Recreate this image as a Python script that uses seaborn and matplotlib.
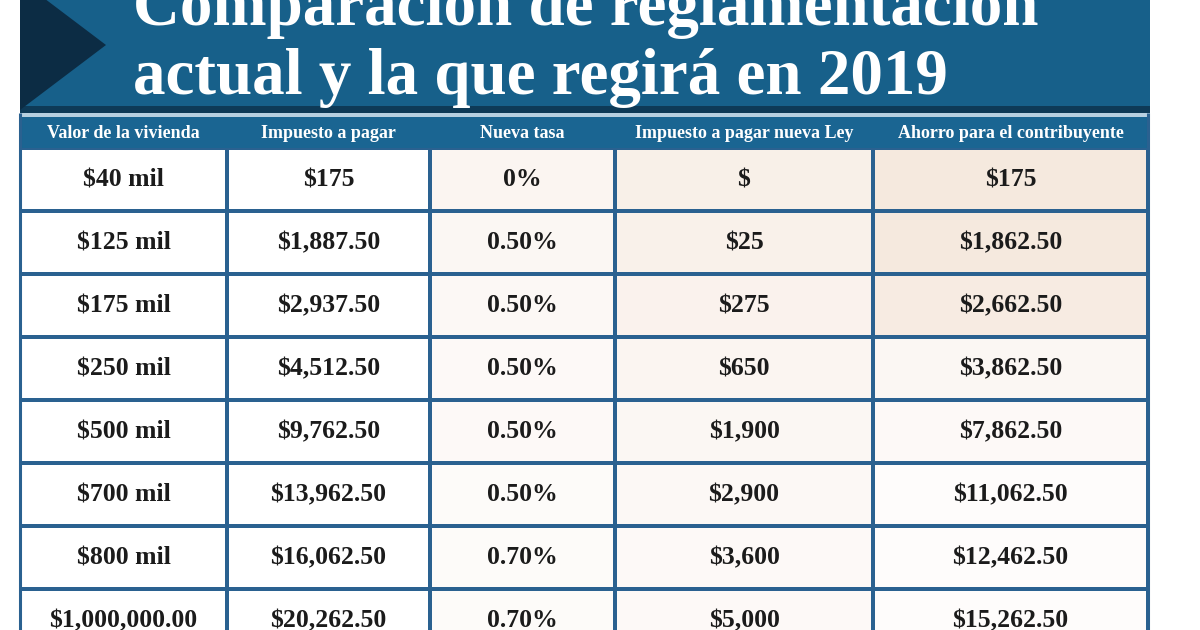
import numpy as np
import matplotlib
matplotlib.use("Agg")
import matplotlib.pyplot as plt
from matplotlib.colors import LinearSegmentedColormap
from matplotlib.patches import Rectangle, Polygon
import seaborn as sb

# table contents
title_lines = ["Comparación de reglamentación", "actual y la que regirá en 2019"]
headers = ["Valor de la vivienda", "Impuesto a pagar", "Nueva tasa",
           "Impuesto a pagar nueva Ley", "Ahorro para el contribuyente"]
valor = ["$40 mil", "$125 mil", "$175 mil", "$250 mil", "$500 mil",
         "$700 mil", "$800 mil", "$1,000,000.00"]
impuesto = ["$175", "$1,887.50", "$2,937.50", "$4,512.50", "$9,762.50",
            "$13,962.50", "$16,062.50", "$20,262.50"]
tasa = ["0%", "0.50%", "0.50%", "0.50%", "0.50%", "0.50%", "0.70%", "0.70%"]
nuevo = ["$", "$25", "$275", "$650", "$1,900", "$2,900", "$3,600", "$5,000"]
ahorro = ["$175", "$1,862.50", "$2,662.50", "$3,862.50", "$7,862.50",
          "$11,062.50", "$12,462.50", "$15,262.50"]
columns = [valor, impuesto, tasa, nuevo, ahorro]

# faint background tint per cell (stands in for the photo behind the table)
tints = [
    [0, 0, 0, 0, 0, 0, 0, 0],
    [0, 0, 0, 0, 0, 0, 0, 0],
    [0.35, 0.3, 0.25, 0.2, 0.2, 0.15, 0.15, 0.15],
    [0.55, 0.5, 0.45, 0.35, 0.3, 0.25, 0.2, 0.2],
    [0.8, 0.8, 0.7, 0.3, 0.2, 0.1, 0.1, 0.1],
]

banner_blue = "#17608a"
header_blue = "#1a6592"
navy = "#0c2c44"
line_blue = "#2a6190"
text_dark = "#1b1b1b"
tint_cmap = LinearSegmentedColormap.from_list("tint", ["#ffffff", "#f3e3d6"])

sb.set_theme(style="white")
plt.rcParams['font.family'] = ['Liberation Serif', 'DejaVu Serif']

W, H = 1200, 630
fig = plt.figure(figsize=(12, 6.3), dpi=100)
fig.patch.set_facecolor("white")

col_edges = [20, 227, 430, 615, 873, 1148]
body_top, row_h = 148, 63


def fig_box(x0, y0, x1, y1):
    return [x0 / W, 1 - y1 / H, (x1 - x0) / W, (y1 - y0) / H]


for j, col in enumerate(columns):
    ax = fig.add_axes(fig_box(col_edges[j], body_top, col_edges[j + 1],
                              body_top + row_h * len(col)))
    shade = np.array(tints[j], dtype=float).reshape(-1, 1)
    labels = np.array(col).reshape(-1, 1)
    sb.heatmap(shade, ax=ax, cmap=tint_cmap, vmin=0, vmax=1,
               annot=labels, fmt="", cbar=False,
               linewidths=1.5, linecolor=line_blue,
               xticklabels=False, yticklabels=False,
               annot_kws=dict(color=text_dark, fontsize=18.5, fontweight="bold",
                              family=['Liberation Serif', 'DejaVu Serif']))

# banner, header strip and borders on a full-figure overlay
top = fig.add_axes([0, 0, 1, 1])
top.set_xlim(0, W)
top.set_ylim(H, 0)
top.axis("off")
top.patch.set_alpha(0)

top.add_patch(Rectangle((20, -5), 1130, 111, color=banner_blue, lw=0))
top.add_patch(Rectangle((20, 106), 1130, 7, color="#0e3a57", lw=0))
top.add_patch(Rectangle((20, 113), 1130, 4, color="#b7d0e1", lw=0))
top.add_patch(Rectangle((20, 117), 1130, 31, color=header_blue, lw=0))
top.add_patch(Polygon([(20, -20), (106, 45), (20, 110)], closed=True,
                      color=navy, lw=0))

for x in (20, 1148):
    top.plot([x, x], [113, H], color=line_blue, lw=2.2, solid_capstyle="butt")

for j, h in enumerate(headers):
    cx = (col_edges[j] + col_edges[j + 1]) / 2
    top.text(cx, 133, h, ha="center", va="center", color="white",
             fontsize=13, fontweight="bold")

t1 = top.text(133, 25, title_lines[0], ha="left", va="baseline",
              color="white", fontsize=44, fontweight="bold")
t2 = top.text(133, 94, title_lines[1], ha="left", va="baseline",
              color="white", fontsize=44, fontweight="bold")

# scale the title so its second line is close to the original's width
renderer = fig.canvas.get_renderer()
w2 = t2.get_window_extent(renderer).width
fs = 44 * 815 / w2
t1.set_fontsize(fs)
t2.set_fontsize(fs)

fig.savefig("out.png", dpi=100)
